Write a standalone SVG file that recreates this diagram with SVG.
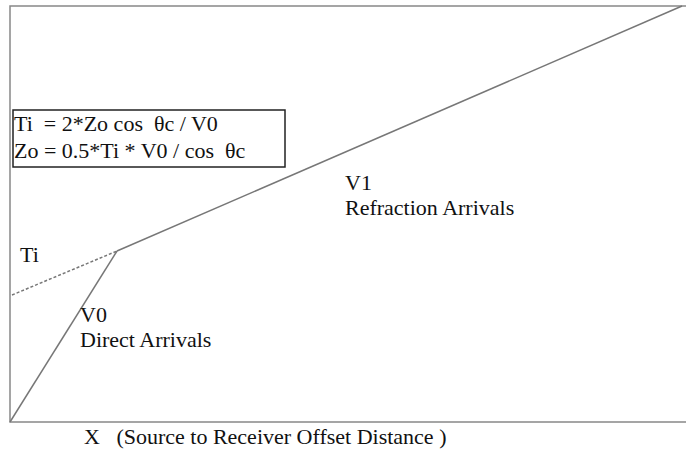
<svg xmlns="http://www.w3.org/2000/svg" width="686" height="451" viewBox="0 0 686 451">
<style>
.t{font-family:"Liberation Serif","Times New Roman",serif;font-size:22px;fill:#111}
.ax{stroke:#888;stroke-width:1.5;fill:none}
.ln{stroke:#777;stroke-width:1.5;fill:none}
</style>
<rect width="686" height="451" fill="#fff"/>
<g id="connectors">
<path class="ax" d="M686,6 H10 V422 H686"/>
<line class="ln" x1="10" y1="422" x2="117" y2="251"/>
<line class="ln" x1="117" y1="251" x2="682" y2="6"/>
<line class="ln" x1="12" y1="295" x2="117" y2="251" stroke-dasharray="3,2"/>
</g>
<g id="formula">
<rect x="13" y="110" width="272" height="57" fill="#fff" stroke="#222" stroke-width="1.5"/>
<text class="t" x="14" y="131" xml:space="preserve">Ti  = 2*Zo cos  θc / V0</text>
<text class="t" x="14" y="158" xml:space="preserve">Zo = 0.5*Ti * V0 / cos  θc</text>
</g>
<g id="ti"><text class="t" x="20" y="262">Ti</text></g>
<g id="v0"><text class="t" x="80" y="322">V0</text><text class="t" x="80" y="347">Direct Arrivals</text></g>
<g id="v1"><text class="t" x="345" y="190">V1</text><text class="t" x="345" y="215">Refraction Arrivals</text></g>
<g id="xlabel"><text class="t" x="84" y="444" xml:space="preserve">X   (Source to Receiver Offset Distance )</text></g>
</svg>
